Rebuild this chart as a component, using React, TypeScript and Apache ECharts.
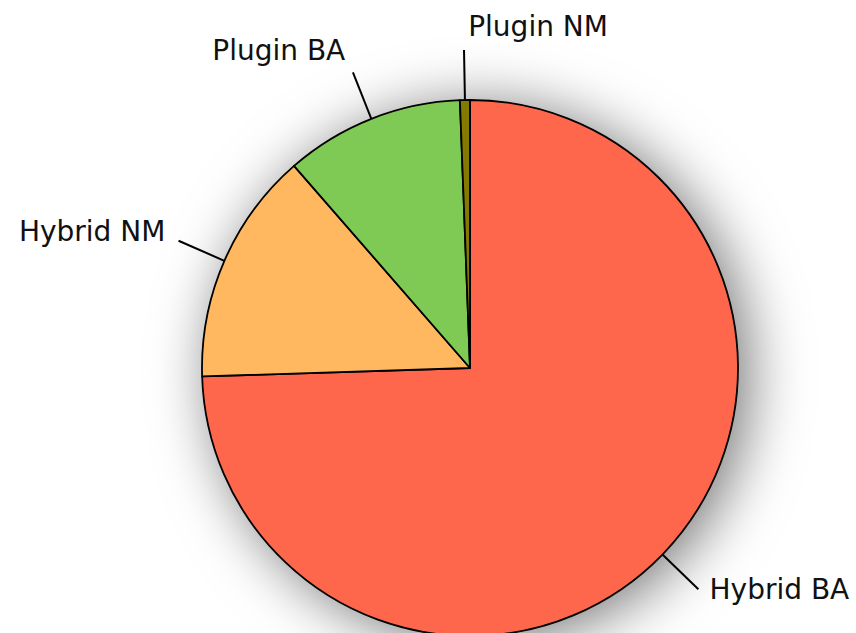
import React, { useEffect, useRef } from "react";
import * as echarts from "echarts";

const categories = ["Hybrid BA", "Hybrid NM", "Plugin BA", "Plugin NM"];
const values = [74.5, 14.1, 10.8, 0.6];
const colors = ["#FF674C", "#FFB860", "#7ECA55", "#857A00"];

export default function App() {
  const ref = useRef<HTMLDivElement>(null);
  useEffect(() => {
    if (!ref.current) return;
    const chart = echarts.init(ref.current, undefined, { renderer: "svg" });
    const data = categories.map((name, i) => ({
      name,
      value: values[i],
      itemStyle: { color: colors[i] },
    }));
    chart.setOption({
      animation: false,
      backgroundColor: "#ffffff",
      series: [
        {
          type: "pie",
          silent: true,
          center: [470, 368],
          radius: 268,
          z: 1,
          label: { show: false },
          labelLine: { show: false },
          data: [{ value: 1, name: "", itemStyle: { color: "#ffffff" } }],
          itemStyle: {
            shadowBlur: 60,
            shadowColor: "rgba(0,0,0,0.55)",
            shadowOffsetX: 10,
            shadowOffsetY: 6,
          },
          tooltip: { show: false },
        },
        {
          type: "pie",
          z: 2,
          center: [470, 368],
          radius: 268,
          startAngle: 90,
          clockwise: true,
          avoidLabelOverlap: false,
          emphasis: { disabled: true },
          itemStyle: { borderColor: "#000", borderWidth: 1.8 },
          label: {
            show: true,
            formatter: "{b}",
            fontFamily: "DejaVu Sans",
            fontSize: 28,
            color: "#111",
          },
          labelLine: {
            show: true,
            length: 50,
            length2: 0,
            smooth: false,
            lineStyle: { color: "#000", width: 2 },
          },
          labelLayout: (p: any) => {
            const pts = p.labelLinePoints;
            if (!pts || pts.length < 2) return {};
            const s = pts[0];
            const e = pts[pts.length - 1];
            let dx = e[0] - s[0];
            let dy = e[1] - s[1];
            const len = Math.hypot(dx, dy) || 1;
            dx /= len;
            dy /= len;
            const left = dx > -0.1;
            const gap = 4 + Math.abs(dx) * 10;
            return {
              x: left ? e[0] + gap : e[0] - gap,
              y: e[1] + Math.min(dy, 0) * 24,
              align: left ? "left" : "right",
              verticalAlign: "middle",
              labelLinePoints: pts,
            };
          },
          data,
        },
      ],
    });
    return () => chart.dispose();
  }, []);
  return (
    <div
      ref={ref}
      style={{ position: "fixed", left: 0, top: 0, width: 856, height: 633 }}
    />
  );
}
